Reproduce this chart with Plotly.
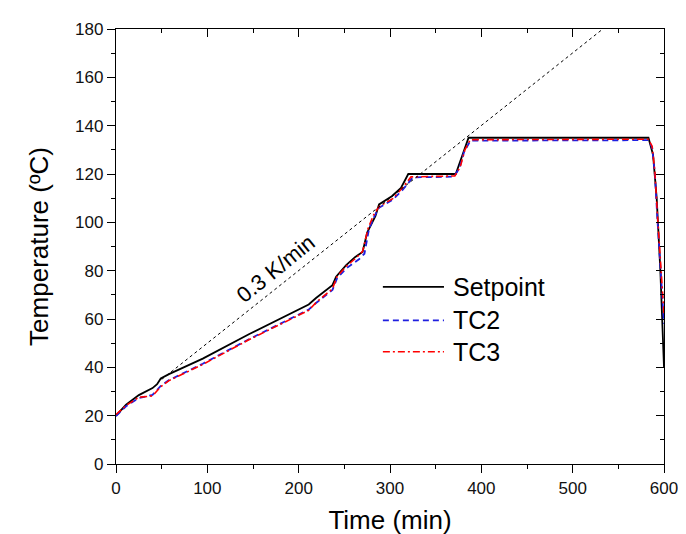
import plotly.graph_objects as go

# ---- data ----
setpoint_t = [0, 11, 25, 40, 45, 49, 58, 95, 146, 211, 219, 237, 241, 252, 262, 270, 275, 281, 284, 288, 302, 312, 320, 372, 386, 583, 588, 592, 596, 600]
setpoint_T = [20, 24.5, 28.5, 31.4, 33, 35.4, 37.2, 43.6, 53.8, 66, 68.7, 74, 77.5, 82.3, 85.7, 87.7, 95.8, 100.6, 102.6, 107.4, 110.8, 114.2, 120, 120, 135, 135, 128, 110, 80, 40]

tc2_t = [0, 11, 25, 40, 49, 58, 95, 146, 211, 219, 237, 242, 252, 266, 272, 277, 283, 288, 303, 314, 325, 370, 376, 381, 388, 583, 587, 590, 593, 596, 600]
tc2_T = [19.8, 23.9, 27.3, 28.6, 32.3, 34.7, 41.5, 51.7, 63.9, 66.6, 72, 76.8, 80.9, 84.7, 87, 97.2, 102.6, 106, 109.4, 113.5, 118.6, 118.9, 122.3, 129, 133.8, 134, 131, 120, 100, 80, 58]

tc3_t = [0, 11, 25, 40, 49, 58, 95, 146, 211, 219, 237, 242, 252, 263, 270, 276, 282, 288, 303, 313, 323, 371, 377, 382, 388, 583, 587, 590, 593, 596, 600]
tc3_T = [20.5, 24.2, 27.6, 28.2, 32, 34.5, 41.2, 51.5, 63.6, 66.8, 72.5, 77.5, 81.8, 85.3, 88, 97.5, 103, 106.5, 109.8, 114, 118.8, 119.2, 123, 130, 134.2, 134.4, 131.5, 121, 102, 84, 62]

rate_t = [50, 533]
rate_T = [35, 180]
rate_label = "0.3 K/min"

x_ticks = [0, 100, 200, 300, 400, 500, 600]
y_ticks = [0, 20, 40, 60, 80, 100, 120, 140, 160, 180]

FONT = "Liberation Sans, Arial, sans-serif"

fig = go.Figure()
fig.add_trace(go.Scatter(x=rate_t, y=rate_T, mode="lines", xaxis="x2", yaxis="y2",
                         line=dict(color="black", width=1, dash="3px,3px"), showlegend=False, hoverinfo="skip"))
fig.add_trace(go.Scatter(x=setpoint_t, y=setpoint_T, mode="lines", name="Setpoint",
                         line=dict(color="black", width=1.8), showlegend=False))
fig.add_trace(go.Scatter(x=tc2_t, y=tc2_T, mode="lines", name="TC2",
                         line=dict(color="#1f1fe0", width=1.8, dash="6px,4px"), showlegend=False))
fig.add_trace(go.Scatter(x=tc3_t, y=tc3_T, mode="lines", name="TC3",
                         line=dict(color="#ff0000", width=1.6, dash="7px,3px,2px,3px"), showlegend=False))

axis_common = dict(showgrid=False, zeroline=False, showline=True, linecolor="black", linewidth=1.3,
                   tickcolor="black", tickwidth=1.3, ticklen=8,
                   tickfont=dict(family=FONT, size=17, color="#111"))

fig.update_layout(
    width=686, height=534,
    margin=dict(l=108, r=30, t=20, b=72),
    paper_bgcolor="white", plot_bgcolor="white",
    font=dict(family=FONT, color="black"),
    xaxis=dict(range=[0, 600], tickvals=x_ticks, ticks="outside",
               minor=dict(dtick=50, ticks="outside", ticklen=4, tickcolor="black", tickwidth=1.3),
               title=dict(text="Time (min)", font=dict(family=FONT, size=26, color="black"), standoff=14),
               **axis_common),
    yaxis=dict(range=[0, 180], tickvals=y_ticks, ticks="outside",
               minor=dict(dtick=10, ticks="outside", ticklen=4, tickcolor="black", tickwidth=1.3),
               title=dict(text="Temperature (ºC)", font=dict(family=FONT, size=26, color="black"), standoff=18),
               **axis_common),
    xaxis2=dict(range=[0, 600], overlaying="x", side="top", tickvals=x_ticks, ticks="inside",
                showticklabels=False,
                minor=dict(dtick=50, ticks="inside", ticklen=4, tickcolor="black", tickwidth=1.3),
                **axis_common),
    yaxis2=dict(range=[0, 180], overlaying="y", side="right", tickvals=y_ticks, ticks="inside",
                showticklabels=False,
                minor=dict(dtick=10, ticks="inside", ticklen=4, tickcolor="black", tickwidth=1.3),
                **axis_common),
)

fig.add_annotation(x=175, y=81, xref="x", yref="y", text=rate_label, textangle=-39,
                   showarrow=False, font=dict(family=FONT, size=22, color="black"))

# legend drawn manually to match the long sample lines of the original
legend_items = [("Setpoint", "black", "solid", 1.8, 0.407),
                ("TC2", "#1f1fe0", "6px,4px", 1.8, 0.330),
                ("TC3", "#ff0000", "7px,3px,2px,3px", 1.6, 0.258)]
for label, color, dash, w, yy in legend_items:
    fig.add_shape(type="line", xref="paper", yref="paper", x0=0.487, x1=0.5985, y0=yy, y1=yy,
                  line=dict(color=color, width=w, dash=dash))
    fig.add_annotation(xref="paper", yref="paper", x=0.611, y=yy, text=label, showarrow=False,
                       xanchor="left", yanchor="middle", font=dict(family=FONT, size=25, color="black"))

fig.write_html("out.html")
